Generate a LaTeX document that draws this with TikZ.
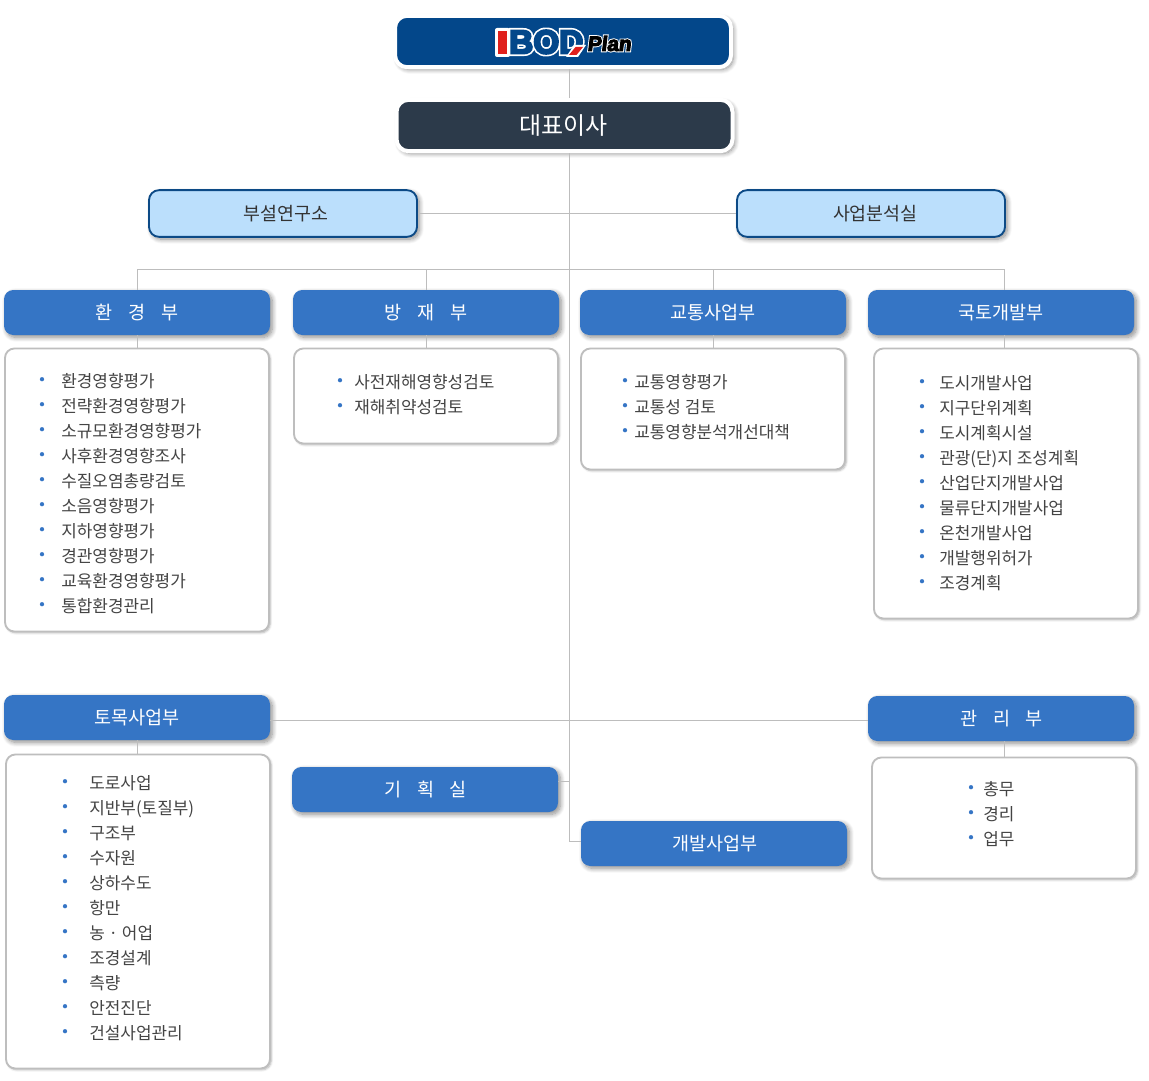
\documentclass[tikz,border=0pt]{standalone}
\usepackage{fontspec}
\setmainfont{Noto Sans CJK KR}
\newfontfamily\logofont{Liberation Sans}
\usetikzlibrary{shadows.blur,calc}
\definecolor{linegray}{HTML}{BDBDBD}
\definecolor{navy}{HTML}{03478A}
\definecolor{slate}{HTML}{2C3A4A}
\definecolor{sky}{HTML}{BBDFFC}
\definecolor{skyline}{HTML}{0C4A86}
\definecolor{deptblue}{HTML}{3575C5}
\definecolor{listline}{HTML}{BEBEBE}
\definecolor{itemtext}{HTML}{444444}
\definecolor{dotblue}{HTML}{3575C5}
\definecolor{logored}{HTML}{E0201C}
\definecolor{logoblue}{HTML}{03478A}
\tikzset{
  x=0.75pt,y=-0.75pt,
  softshadow/.style={blur shadow={shadow xshift=1.8pt,shadow yshift=-1.8pt,shadow blur radius=3.4pt,shadow opacity=45,shadow blur steps=10}},
  topbox/.style={rounded corners=9pt,line width=3pt,draw=white,softshadow,inner sep=0pt,text=white},
  labbox/.style={rounded corners=7.5pt,line width=1.4pt,draw=skyline,fill=sky,softshadow,inner sep=0pt,
     minimum width=201pt,minimum height=35pt,font=\fontsize{13.8}{16}\selectfont,text=black!80},
  deptbox/.style={rounded corners=7pt,fill=deptblue,softshadow,inner sep=0pt,
     minimum width=199.5pt,minimum height=33.75pt,font=\fontsize{13.9}{16}\selectfont,text=white},
  listbox/.style={rounded corners=7pt,line width=1.4pt,draw=listline,fill=white,
     blur shadow={shadow xshift=1pt,shadow yshift=-1pt,shadow blur radius=1.6pt,shadow opacity=30,shadow blur steps=5},
     inner sep=0pt,minimum width=198pt},
  itemlabel/.style={anchor=west,inner sep=0pt,text height=11pt,text depth=2.5pt,text=itemtext,font=\fontsize{12.7}{15}\selectfont},
  itemdot/.style={circle,fill=dotblue,inner sep=0pt,minimum size=3.2pt},
  conn/.style={draw=linegray,line width=0.75pt},
  logotext/.style={inner sep=0pt,anchor=west},
}
\newcommand{\wsp}{\hspace{0.85em}}
% items: prefix, dot x, text x, first y, list
\newcommand{\itemlist}[5]{%
  \foreach \t [count=\n from 0] in {#5} {
    \node[itemdot] (#1d\n) at (#2,#4+25*\n-0.8) {};
    \node[itemlabel] (#1t\n) at (#3,#4+25*\n+2) {\t};
  }}
\begin{document}
\begin{tikzpicture}
\useasboundingbox (0,0) rectangle (1149,1081);
\coordinate (trunk) at (569.5,0);
\coordinate (bus) at (0,269);
\coordinate (planlink) at (0,781);
\coordinate (civillink) at (0,720);
\coordinate (devlink) at (0,841);
% list boxes
\node[listbox,minimum height=212.25pt] (lenv) at (137,490) {};
\node[listbox,minimum height=71.25pt] (lbang) at (426,396) {};
\node[listbox,minimum height=90.75pt] (ltraf) at (713,409) {};
\node[listbox,minimum height=202.5pt] (lland) at (1006,483.5) {};
\node[listbox,minimum height=235.5pt] (lcivil) at (138,911.5) {};
\node[listbox,minimum height=90.75pt] (lmgmt) at (1004,818) {};
% top boxes
\node[topbox,fill=navy,minimum width=252pt,minimum height=38.5pt] (logo) at (563,41.5) {};
\node[topbox,fill=slate,minimum width=252pt,minimum height=38.5pt,font=\fontsize{18}{20}\selectfont] (ceo) at (564.5,125.5) {\raisebox{1.4pt}{\hspace{-1.2pt}대표이사}};
\node[labbox] (lab) at (283,213.5) {\raisebox{-1.4pt}{\hspace{4pt}부설연구소}};
\node[labbox] (biz) at (871,213.5) {\raisebox{-1.4pt}{\hspace{6.5pt}사업분석실}};
% departments
\node[deptbox] (env) at (137,312.5) {\raisebox{-1.4pt}{환\wsp 경\wsp 부}};
\node[deptbox] (bang) at (426,312.5) {\raisebox{-1.4pt}{방\wsp 재\wsp 부}};
\node[deptbox] (traf) at (713,312.5) {\raisebox{-1.4pt}{교통사업부}};
\node[deptbox] (land) at (1001,312.5) {\raisebox{-1.4pt}{국토개발부}};
\node[deptbox] (civil) at (137,717.5) {\raisebox{1pt}{토목사업부}};
\node[deptbox] (mgmt) at (1001,718.5) {\hspace{1pt}관\wsp 리\wsp 부};
\node[deptbox] (plan) at (425,789.5) {\hspace{1pt}기\wsp 획\wsp 실};
\node[deptbox] (dev) at (714,843.5) {\raisebox{1pt}{\hspace{1.5pt}개발사업부}};
% connectors
\draw[conn] (logo.south -| trunk) -- (ceo.north -| trunk);
\draw[conn] (ceo.south -| trunk) -- (devlink -| trunk) -- (dev.west |- devlink);
\draw[conn] (lab.east) -- (biz.west);
\coordinate (envtop) at (137,269);
\coordinate (landtop) at (1004,269);
\draw[conn] (env.north -| envtop) -- (envtop) -- (landtop) -- (land.north -| landtop);
\draw[conn] (bang.north) -- (bang.north |- bus);
\draw[conn] (traf.north) -- (traf.north |- bus);
\draw[conn] (civil.east |- civillink) -- (mgmt.west |- civillink);
\draw[conn] (plan.east |- planlink) -- (trunk |- planlink);
\draw[conn] (env.south -| envtop) -- (lenv.north -| envtop);
\draw[conn] (bang.south) -- (lbang.north -| bang.south);
\draw[conn] (traf.south) -- (ltraf.north -| traf.south);
\draw[conn] (land.south -| landtop) -- (lland.north -| landtop);
\draw[conn] (civil.south) -- (lcivil.north -| civil.south);
\draw[conn] (mgmt.south -| landtop) -- (lmgmt.north -| landtop);
% logo artwork
\fill[white,rounded corners=1.5pt] (495,28) rectangle (510,57);
\fill[logored] (498,31) rectangle (507,54);
\node[logotext,text=white,font={\logofont\bfseries\fontsize{25}{25}\selectfont\addfontfeature{FakeBold=16}}] (logob) at (509,42) {BOD};
\node[logotext,text=logoblue,font={\logofont\bfseries\fontsize{25}{25}\selectfont\addfontfeature{FakeBold=6}}] (logoc) at (509,42) {BOD};
\fill[white] (566,57) -- (574,45) -- (586,45) -- (578,57) -- cycle;
\fill[logored] (569,55) -- (575.5,47) -- (583,47) -- (576.5,55) -- cycle;
\node[logotext,text=white,font={\logofont\bfseries\fontsize{15.5}{15}\selectfont\addfontfeature{FakeBold=14,FakeSlant=0.12}}] (logop) at (587,43.5) {Plan};
\node[logotext,text=black,font={\logofont\bfseries\fontsize{15.5}{15}\selectfont\addfontfeature{FakeBold=5,FakeSlant=0.12}}] (logoq) at (587,43.5) {Plan};
% items
\itemlist{a}{42}{61}{380}{환경영향평가,전략환경영향평가,소규모환경영향평가,사후환경영향조사,수질오염총량검토,소음영향평가,지하영향평가,경관영향평가,교육환경영향평가,통합환경관리}
\itemlist{b}{340}{354}{381}{사전재해영향성검토,재해취약성검토}
\itemlist{c}{625}{634}{381}{교통영향평가,교통성 검토,교통영향분석개선대책}
\itemlist{d}{922}{939}{382}{도시개발사업,지구단위계획,도시계획시설,관광(단)지 조성계획,산업단지개발사업,물류단지개발사업,온천개발사업,개발행위허가,조경계획}
\itemlist{e}{65}{89}{782}{도로사업,지반부(토질부),구조부,수자원,상하수도,항만,농 · 어업,조경설계,측량,안전진단,건설사업관리}
\itemlist{f}{971}{983}{788}{총무,경리,업무}
\end{tikzpicture}
\end{document}
